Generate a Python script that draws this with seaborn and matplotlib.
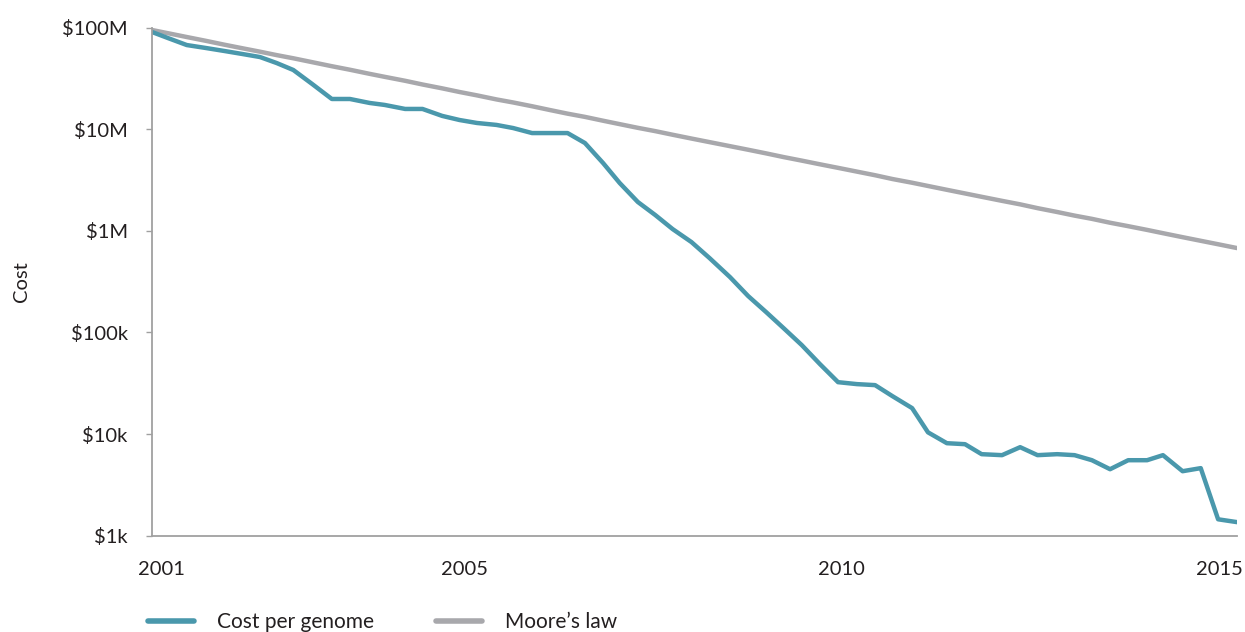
import matplotlib
matplotlib.use("Agg")
import matplotlib.pyplot as plt
import seaborn as sns
import pandas as pd
import numpy as np

# ---- data ----
years = [2000.87, 2001.08, 2001.33, 2001.58, 2001.83, 2002.07, 2002.30, 2002.52, 2002.74, 2002.99,
         2003.25, 2003.49, 2003.75, 2003.95, 2004.22, 2004.45, 2004.71, 2004.94, 2005.17, 2005.43,
         2005.65, 2005.90, 2006.14, 2006.37, 2006.60, 2006.84, 2007.06, 2007.30, 2007.53, 2007.76,
         2008.01, 2008.25, 2008.52, 2008.76, 2009.00, 2009.23, 2009.47, 2009.71, 2009.95, 2010.20,
         2010.44, 2010.67, 2010.93, 2011.14, 2011.39, 2011.63, 2011.85, 2012.12, 2012.36, 2012.59,
         2012.85, 2013.08, 2013.31, 2013.55, 2013.79, 2014.04, 2014.25, 2014.51, 2014.75, 2014.98,
         2015.23]

cost_per_genome = [90.3e6, 78.8e6, 67.2e6, 62.9e6, 58.7e6, 54.8e6, 51.2e6, 44.7e6, 38.2e6, 27.8e6,
                   19.8e6, 19.8e6, 18.1e6, 17.3e6, 15.8e6, 15.8e6, 13.5e6, 12.3e6, 11.5e6, 11.0e6,
                   10.25e6, 9.15e6, 9.15e6, 9.15e6, 7.3e6, 4.64e6, 2.95e6, 1.92e6, 1.43e6, 1.04e6,
                   774e3, 538e3, 350e3, 228e3, 158e3, 110e3, 75e3, 48.8e3, 32.4e3, 31.0e3,
                   30.3e3, 23.6e3, 18.0e3, 10.4e3, 8.13e3, 7.95e3, 6.34e3, 6.20e3, 7.43e3, 6.20e3,
                   6.34e3, 6.20e3, 5.53e3, 4.51e3, 5.53e3, 5.53e3, 6.20e3, 4.31e3, 4.62e3, 1.45e3,
                   1.36e3]

moores_law = [94.5e6, 87.9e6, 80.6e6, 74.0e6, 67.7e6, 62.4e6, 57.8e6, 53.5e6, 49.8e6, 45.6e6,
              41.6e6, 38.4e6, 35.0e6, 32.7e6, 29.9e6, 27.5e6, 25.2e6, 23.2e6, 21.5e6, 19.6e6,
              18.3e6, 16.8e6, 15.4e6, 14.2e6, 13.2e6, 12.1e6, 11.2e6, 10.3e6, 9.56e6, 8.81e6,
              8.08e6, 7.45e6, 6.80e6, 6.27e6, 5.77e6, 5.31e6, 4.90e6, 4.51e6, 4.16e6, 3.82e6,
              3.52e6, 3.23e6, 2.97e6, 2.76e6, 2.53e6, 2.33e6, 2.16e6, 1.97e6, 1.82e6, 1.67e6,
              1.53e6, 1.41e6, 1.31e6, 1.20e6, 1.11e6, 1.02e6, 947e3, 865e3, 797e3, 737e3,
              676e3]

series_names = ["Cost per genome", "Moore\u2019s law"]
series_colors = ["#4A98AC", "#A8A8AC"]

y_ticks = [1e3, 1e4, 1e5, 1e6, 1e7, 1e8]
y_tick_labels = ["$1k", "$10k", "$100k", "$1M", "$10M", "$100M"]
x_ticks = [2001, 2005, 2010, 2015]
x_tick_labels = ["2001", "2005", "2010", "2015"]

df = pd.DataFrame({
    "Year": years * 2,
    "Cost": cost_per_genome + moores_law,
    "Series": [series_names[0]] * len(years) + [series_names[1]] * len(years),
})

sns.set_style("white")
plt.rcParams["font.family"] = ["Lato", "DejaVu Sans"]

FS = 14.5
fig = plt.figure(figsize=(12.45, 6.32), dpi=100)
ax = fig.add_axes([152 / 1245, 1 - 535.7 / 632, (1237 - 152) / 1245, (535.7 - 27.5) / 632])

sns.lineplot(data=df, x="Year", y="Cost", hue="Series", hue_order=series_names[::-1],
             palette=dict(zip(series_names, series_colors)), linewidth=3.2, ax=ax,
             legend=False, estimator=None, sort=False)

ax.set_yscale("log")
ax.set_ylim(1e3, 1e8)
ax.set_xlim(2000.87, 2015.23)
ax.set_yticks(y_ticks)
ax.set_yticklabels(y_tick_labels)
ax.yaxis.set_minor_locator(matplotlib.ticker.NullLocator())
ax.set_xticks(x_ticks)
ax.set_xticklabels(x_tick_labels)

ax.tick_params(axis="y", which="major", length=4.5, width=1.0, color="#A0A0A0",
               pad=13, labelsize=FS, labelcolor="#231F20", left=True)
ax.tick_params(axis="x", which="major", length=0, pad=18, labelsize=FS, labelcolor="#231F20")

for s in ["top", "right"]:
    ax.spines[s].set_visible(False)
for s in ["left", "bottom"]:
    ax.spines[s].set_color("#A0A0A0")
    ax.spines[s].set_linewidth(1.3)

ax.set_xlabel("")
ax.set_ylabel("Cost", fontsize=FS, color="#231F20", va="center")
ax.yaxis.set_label_coords((22 - 152) / 1085, 0.5)

handles = [matplotlib.lines.Line2D([], [], color=c, linewidth=4) for c in series_colors]
fig.legend(handles, series_names, loc="center left", bbox_to_anchor=(148 / 1245, 1 - 622 / 632),
           ncol=2, frameon=False, fontsize=FS + 0.5, handlelength=2.2, handletextpad=1.1,
           columnspacing=3.0, borderpad=0, borderaxespad=0, labelcolor="#231F20")

fig.savefig("out.png", dpi=100)
